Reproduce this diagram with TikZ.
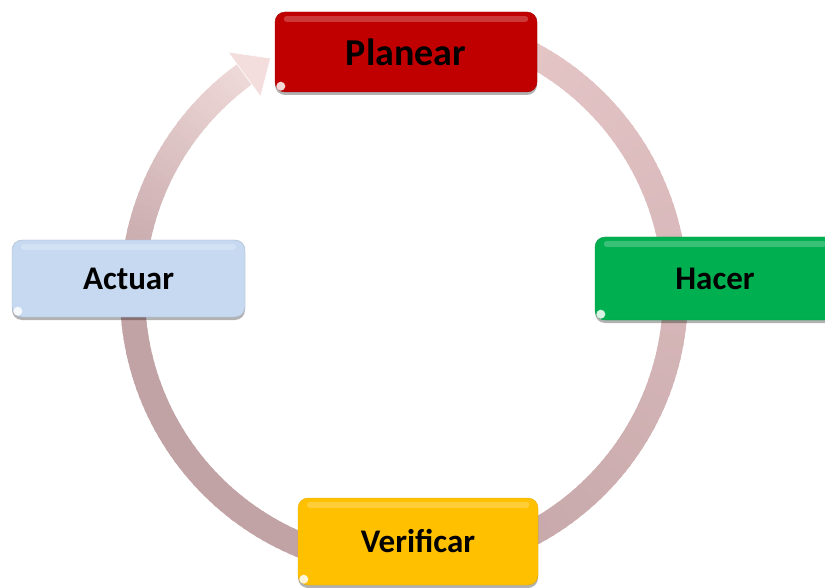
\documentclass[tikz,border=0pt]{standalone}
\usepackage{fontspec}
\setmainfont{Carlito}
\usetikzlibrary{shadows,calc}
\definecolor{planred}{HTML}{C00000}
\definecolor{hacgreen}{HTML}{00B050}
\definecolor{veryellow}{HTML}{FFC000}
\definecolor{actblue}{HTML}{C6D9F1}
\definecolor{mauve}{HTML}{C2A3A5}
\definecolor{pinkA}{HTML}{E8C8C9}
\definecolor{pinkL}{HTML}{F3DDDD}
\begin{document}
\begin{tikzpicture}[x=1pt,y=-1pt,
  box/.style={rectangle, rounded corners=10pt, text=black, inner sep=0pt,
    font=\fontsize{33}{40}\selectfont\bfseries,
    drop shadow={shadow xshift=0pt, shadow yshift=-3pt, opacity=0.3, fill=black}},
  shine/.style={white, opacity=0.22, line width=6pt, line cap=round},
  spot/.style={white, opacity=0.85}]
\useasboundingbox (0,0) rectangle (825,588);
\clip (0,0) rectangle (825,588);
\coordinate (ctr) at (404,294);
% ring
\foreach \a in {-80,-78.5,...,232.5} {
  \pgfmathtruncatemacro\p{\a<90 ? (\a+80)/1.7 : (\a<180 ? 100 : 100-(\a-180)*1.7)}
  \pgfmathsetmacro\b{\a+2}
  \ifdim\a pt<180pt
    \colorlet{segc}{mauve!\p!pinkA}
  \else
    \colorlet{segc}{mauve!\p!pinkL}
  \fi
  \fill[segc] ($(ctr)+(\a:259)$) -- ($(ctr)+(\b:259)$) -- ($(ctr)+(\b:284)$) -- ($(ctr)+(\a:284)$) -- cycle;
}
% arrowhead
\coordinate (ahO) at ($(ctr)+(234:299)$);
\coordinate (ahI) at ($(ctr)+(234:244)$);
\coordinate (ahT) at ($(ctr)+(240.5:271)$);
\fill[pinkL, draw=white, line width=0.6pt] (ahO) -- (ahT) -- (ahI) -- cycle;
% boxes
\node[box, fill=planred, draw=planred!85!black, minimum width=262pt, minimum height=80pt,
  font=\fontsize{38}{44}\selectfont\bfseries] (P) at (406,52) {Planear};
\node[box, fill=hacgreen, draw=hacgreen!85!black, minimum width=240pt, minimum height=83pt] (H) at (715,278.5) {Hacer};
\node[box, fill=veryellow, draw=veryellow!90!black, minimum width=240pt, minimum height=87pt] (V) at (418,541.5) {Verificar};
\node[box, fill=actblue, draw=actblue!85!black, minimum width=233pt, minimum height=77pt] (A) at (128.5,278.5) {Actuar};
\foreach \n in {P,H,V,A} {
  \draw[shine] ([xshift=12pt,yshift=-7pt]\n.north west) -- ([xshift=-12pt,yshift=-7pt]\n.north east);
  \fill[spot] ([xshift=6pt,yshift=6pt]\n.south west) circle (4.5pt);
}
\end{tikzpicture}
\end{document}
